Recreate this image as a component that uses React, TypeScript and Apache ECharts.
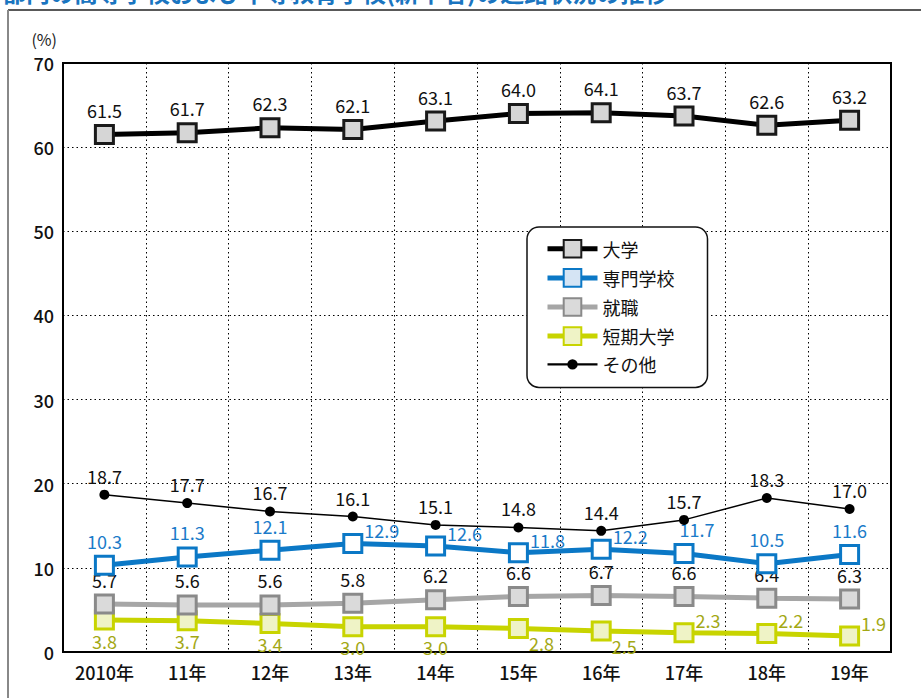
import React, { useEffect, useRef } from "react";
import * as echarts from "echarts";

// 年次
const years = ["2010年", "11年", "12年", "13年", "14年", "15年", "16年", "17年", "18年", "19年"];

// 進路別の割合（%）
const daigaku = [61.5, 61.7, 62.3, 62.1, 63.1, 64.0, 64.1, 63.7, 62.6, 63.2];
const senmon = [10.3, 11.3, 12.1, 12.9, 12.6, 11.8, 12.2, 11.7, 10.5, 11.6];
const shushoku = [5.7, 5.6, 5.6, 5.8, 6.2, 6.6, 6.7, 6.6, 6.4, 6.3];
const tanki = [3.8, 3.7, 3.4, 3.0, 3.0, 2.8, 2.5, 2.3, 2.2, 1.9];
const sonota = [18.7, 17.7, 16.7, 16.1, 15.1, 14.8, 14.4, 15.7, 18.3, 17.0];

// ラベルの置き方（系列ごと）
const senmonLabelSide = ["top", "top", "top", "upRight", "upRight", "upRight", "upRight", "topShift", "top", "top"];
const tankiLabelSide = ["bottom", "bottom", "bottom", "bottom", "bottom", "downRight", "downRight", "upRight", "upRight", "upRight"];

const FONT = "'Noto Sans CJK JP', 'Noto Sans', sans-serif";

function labelFor(side: string) {
  switch (side) {
    case "upRight":
      return { position: "right", offset: [-4, -13] };
    case "downRight":
      return { position: "right", offset: [-5, 15] };
    case "topShift":
      return { position: "top", offset: [13, 0] };
    case "bottom":
      return { position: "bottom", offset: [0, -4] };
    default:
      return { position: "top", offset: [0, 0] };
  }
}

function withSides(values: number[], sides: string[]) {
  return values.map((v, i) => ({ value: v, label: labelFor(sides[i]) }));
}

export default function App() {
  const ref = useRef<HTMLDivElement>(null);

  useEffect(() => {
    if (!ref.current) return;
    const chart = echarts.init(ref.current, undefined, { renderer: "svg" });

    const valueLabel = (color: string) => ({
      show: true,
      position: "top",
      distance: 5,
      color,
      fontSize: 18,
      fontFamily: FONT,
      formatter: (p: any) => Number(p.value).toFixed(1),
    });

    chart.setOption({
      animation: false,
      backgroundColor: "#ffffff",
      textStyle: { fontFamily: FONT },
      grid: {
        left: 63,
        right: 30,
        top: 63,
        bottom: 46,
        show: true,
        borderColor: "#000",
        borderWidth: 2,
        backgroundColor: "transparent",
      },
      legend: {
        orient: "vertical",
        left: 527,
        top: 227,
        padding: [12, 33, 14, 18],
        itemWidth: 50,
        itemHeight: 22,
        itemGap: 9.5,
        borderColor: "#111",
        borderWidth: 1.5,
        borderRadius: 12,
        backgroundColor: "#fff",
        textStyle: { fontSize: 18, color: "#111", fontFamily: FONT },
        lineStyle: { width: "inherit" },
        data: [
          { name: "大学" },
          { name: "専門学校", itemStyle: { color: "#d5e4f4" } },
          { name: "就職" },
          { name: "短期大学" },
          {
            name: "その他",
            icon: "path://M0,4 L48,4 L48,6 L0,6 Z M19,5 A5,5 0 1 1 29,5 A5,5 0 1 1 19,5 Z",
          },
        ],
      },
      xAxis: {
        type: "category",
        data: years,
        boundaryGap: true,
        axisLine: { show: true, lineStyle: { color: "#000", width: 2 } },
        axisTick: { show: false },
        axisLabel: { fontSize: 18, color: "#111", margin: 11, fontWeight: 500, fontFamily: FONT },
        splitLine: {
          show: true,
          interval: 0,
          lineStyle: { color: "#000", width: 1, type: [1.5, 3] },
        },
      },
      yAxis: {
        type: "value",
        min: 0,
        max: 70,
        interval: 10,
        name: "(%)",
        nameLocation: "end",
        nameGap: 24,
        nameTextStyle: {
          align: "right",
          verticalAlign: "middle",
          padding: [0, 6, 0, 0],
          fontSize: 16,
          color: "#222",
          fontFamily: FONT,
        },
        axisLine: { show: true, lineStyle: { color: "#000", width: 2 } },
        axisTick: { show: false },
        axisLabel: { fontSize: 18, color: "#111", margin: 9, fontWeight: 500, fontFamily: FONT },
        splitLine: {
          show: true,
          lineStyle: { color: "#000", width: 1, type: [1.5, 3] },
        },
      },
      graphic: [
        {
          type: "text",
          left: 2,
          top: -21,
          style: {
            text: "都内の高等学校および中等教育学校(新卒者)の進路状況の推移",
            fill: "#1a75c0",
            fontSize: 24,
            fontWeight: "bold",
            fontFamily: FONT,
          },
        },
        {
          type: "line",
          shape: { x1: 8, y1: 10, x2: 921, y2: 10 },
          style: { stroke: "#222", lineWidth: 1.5 },
        },
        {
          type: "line",
          shape: { x1: 8, y1: 10, x2: 8, y2: 698 },
          style: { stroke: "#888", lineWidth: 2 },
        },
      ],
      series: [
        {
          name: "短期大学",
          type: "line",
          data: withSides(tanki, tankiLabelSide),
          symbol: "rect",
          symbolSize: 18,
          lineStyle: { color: "#c8d400", width: 5 },
          itemStyle: { color: "#eff3c6", borderColor: "#c8d400", borderWidth: 3 },
          label: valueLabel("#a3a814"),
          z: 2,
        },
        {
          name: "就職",
          type: "line",
          data: shushoku,
          symbol: "rect",
          symbolSize: 18,
          lineStyle: { color: "#a6a6a6", width: 5 },
          itemStyle: { color: "#dadada", borderColor: "#8a8a8a", borderWidth: 3 },
          label: valueLabel("#111"),
          z: 3,
        },
        {
          name: "専門学校",
          type: "line",
          data: withSides(senmon, senmonLabelSide),
          symbol: "rect",
          symbolSize: 18,
          lineStyle: { color: "#0b78c6", width: 5 },
          itemStyle: { color: "#ffffff", borderColor: "#0b78c6", borderWidth: 3 },
          label: valueLabel("#1b7bc9"),
          z: 4,
        },
        {
          name: "その他",
          type: "line",
          data: sonota,
          symbol: "circle",
          symbolSize: 10,
          lineStyle: { color: "#000", width: 1.5 },
          itemStyle: { color: "#000" },
          label: valueLabel("#111"),
          z: 5,
        },
        {
          name: "大学",
          type: "line",
          data: daigaku,
          symbol: "rect",
          symbolSize: 18,
          lineStyle: { color: "#000", width: 5 },
          itemStyle: { color: "#d6d6d6", borderColor: "#1a1a1a", borderWidth: 3 },
          label: valueLabel("#111"),
          z: 6,
        },
      ],
    });

    return () => chart.dispose();
  }, []);

  return (
    <div
      ref={ref}
      style={{ position: "fixed", left: 0, top: 0, width: 921, height: 698, background: "#fff" }}
    />
  );
}
